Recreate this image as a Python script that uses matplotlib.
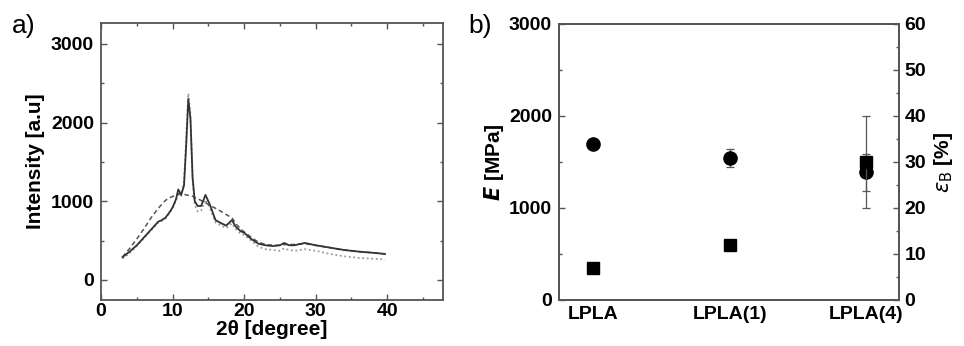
import matplotlib
matplotlib.use("Agg")
import matplotlib.pyplot as plt
from matplotlib.ticker import MultipleLocator

plt.rcParams['font.family'] = ['Liberation Sans', 'DejaVu Sans']

# ---- panel a: XRD data ----
two_theta = [3, 4, 5, 6, 7, 8, 8.5, 9, 9.5, 10, 10.5, 10.8, 11.2, 11.6, 11.9, 12.2, 12.5,
             12.8, 13.1, 13.5, 14, 14.6, 15.2, 16, 16.8, 17.5, 18.3, 18.8, 19.5, 20, 21,
             22, 23, 24, 25, 25.6, 26.3, 27, 28.5, 30, 32, 34, 36, 38, 39.7]
solid = [290, 360, 440, 540, 640, 740, 760, 790, 850, 920, 1030, 1150, 1080, 1200, 1700,
         2300, 2050, 1300, 1000, 940, 940, 1080, 960, 760, 720, 690, 760, 680, 620, 600,
         520, 460, 440, 430, 440, 470, 440, 440, 470, 440, 410, 380, 360, 345, 330]
dotted = [270, 340, 430, 530, 630, 730, 750, 780, 840, 910, 1010, 1120, 1060, 1250, 1800,
          2370, 2100, 1300, 950, 870, 880, 1020, 920, 730, 690, 660, 720, 650, 590, 570,
          500, 420, 390, 380, 370, 400, 380, 370, 390, 370, 330, 300, 280, 270, 260]
dashed = [290, 400, 520, 650, 790, 910, 960, 1010, 1040, 1060, 1080, 1085, 1090, 1090, 1080,
          1075, 1070, 1065, 1050, 1030, 1010, 980, 950, 910, 870, 830, 790, 720, 650, 610,
          540, 480, 450, 440, 440, 450, 450, 450, 460, 440, 410, 380, 360, 345, 330]

# ---- panel b: mechanical data ----
samples = ['LPLA', 'LPLA(1)', 'LPLA(4)']
E_MPa = [1690, 1545, 1390]
E_err = [0, 100, 200]
eps_B = [7, 12, 30]
eps_err = [0, 0, 10]

TICK_FS = 14
LABEL_FS = 15

fig = plt.figure(figsize=(9.64, 3.46), dpi=100)
spine_col = '#555555'

ax1 = fig.add_axes([0.1048, 0.133, 0.3547, 0.8006])
ax1.plot(two_theta, dotted, color='#999999', lw=1.3, ls=(0, (1, 1.5)))
ax1.plot(two_theta, dashed, color='#555555', lw=1.1, ls=(0, (3, 2)))
ax1.plot(two_theta, solid, color='#333333', lw=1.3, ls='-')
ax1.set_xlim(0, 47.8)
ax1.set_ylim(-255, 3265)
ax1.xaxis.set_major_locator(MultipleLocator(10))
ax1.xaxis.set_minor_locator(MultipleLocator(5))
ax1.yaxis.set_major_locator(MultipleLocator(1000))
ax1.yaxis.set_minor_locator(MultipleLocator(500))
ax1.tick_params(which='both', direction='in', top=True, right=True, color=spine_col)
ax1.tick_params(which='major', length=4, width=1, labelsize=TICK_FS, pad=5)
ax1.tick_params(axis='x', which='major', pad=2)
ax1.tick_params(which='minor', length=2.5, width=1)
for lab in ax1.get_xticklabels() + ax1.get_yticklabels():
    lab.set_fontweight('bold')
for s in ax1.spines.values():
    s.set_color(spine_col)
    s.set_linewidth(1.3)
ax1.set_xlabel('2θ [degree]', fontsize=LABEL_FS, fontweight='bold', labelpad=0)
ax1.set_ylabel('Intensity [a.u]', fontsize=LABEL_FS, fontweight='bold', labelpad=4)
fig.text(0.012, 0.905, 'a)', fontsize=19)

# ---- panel b ----
ax2 = fig.add_axes([0.5799, 0.133, 0.3527, 0.7977])
xpos = list(range(len(samples)))
ax2.errorbar(xpos, E_MPa, yerr=E_err, fmt='o', color='black', ms=9.5,
             ecolor='#555555', elinewidth=0.9, capsize=3, capthick=0.9)
ax2.set_xlim(-0.25, 2.24)
ax2.set_ylim(0, 3000)
ax2.set_xticks(xpos)
ax2.set_xticklabels(samples)
ax2.yaxis.set_major_locator(MultipleLocator(1000))
ax2.yaxis.set_minor_locator(MultipleLocator(500))
ax2.tick_params(axis='x', length=0, labelsize=TICK_FS, pad=4)
ax2.tick_params(axis='y', which='both', direction='in', color=spine_col)
ax2.tick_params(axis='y', which='major', length=4, width=1, labelsize=TICK_FS, pad=5)
ax2.tick_params(axis='y', which='minor', length=2.5, width=1)
ax2.set_ylabel(r'$\boldsymbol{E}$ [MPa]', fontsize=LABEL_FS, fontweight='bold', labelpad=2)

ax3 = ax2.twinx()
ax3.errorbar(xpos, eps_B, yerr=eps_err, fmt='s', color='black', ms=8.5,
             ecolor='#555555', elinewidth=0.9, capsize=3, capthick=0.9)
ax3.set_ylim(0, 60)
ax3.yaxis.set_major_locator(MultipleLocator(10))
ax3.yaxis.set_minor_locator(MultipleLocator(5))
ax3.tick_params(axis='y', which='both', direction='in', color=spine_col)
ax3.tick_params(axis='y', which='major', length=4, width=1, labelsize=TICK_FS, pad=4)
ax3.tick_params(axis='y', which='minor', length=2.5, width=1)
ax3.set_ylabel(r'$\varepsilon_{\mathrm{B}}$ [%]', fontsize=LABEL_FS, fontweight='bold', labelpad=4)

for ax in (ax2, ax3):
    for lab in ax.get_xticklabels() + ax.get_yticklabels():
        lab.set_fontweight('bold')
    for s in ax.spines.values():
        s.set_color(spine_col)
        s.set_linewidth(1.3)
fig.text(0.486, 0.905, 'b)', fontsize=19)

fig.savefig('out.png', dpi=100)
